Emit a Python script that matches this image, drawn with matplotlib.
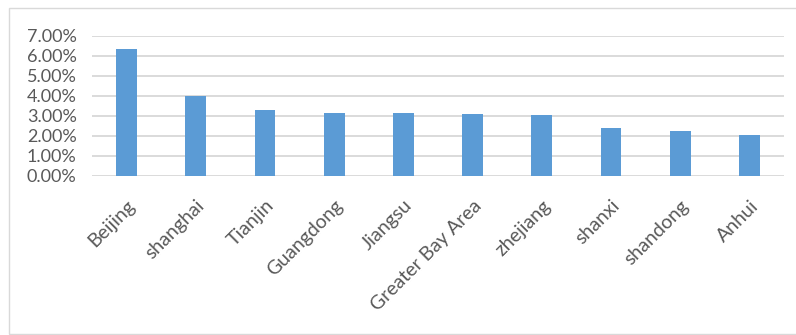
import numpy as np
import matplotlib.pyplot as plt
from matplotlib.patches import Rectangle
from matplotlib.ticker import PercentFormatter

regions = ['Beijing', 'shanghai', 'Tianjin', 'Guangdong', 'Jiangsu',
           'Greater Bay Area', 'zhejiang', 'shanxi', 'shandong', 'Anhui']
share = [6.37, 4.02, 3.30, 3.17, 3.17, 3.10, 3.04, 2.39, 2.25, 2.07]

plt.rcParams['font.family'] = ['Lato', 'DejaVu Sans']

fig = plt.figure(figsize=(7.96, 3.35), dpi=100)
ax = fig.add_axes([92 / 796, 1 - 176 / 335, 692 / 796, 140 / 335])

x = np.arange(len(regions))
ax.bar(x, share, width=0.3, color='#5b9bd5', zorder=3)

ax.set_xlim(-0.5, len(regions) - 0.5)
ax.set_ylim(0, 7)
ax.set_yticks(np.arange(0, 8, 1))
ax.yaxis.set_major_formatter(PercentFormatter(decimals=2))
ax.grid(axis='y', color='#d4d4d4', linewidth=1.2, zorder=0)
for s in ax.spines.values():
    s.set_visible(False)

ax.set_xticks(x)
ax.set_xticklabels(regions, rotation=45, ha='right', rotation_mode='anchor')
ax.tick_params(axis='y', length=0, labelsize=13, labelcolor='#595959', pad=11)
ax.tick_params(axis='x', length=0, labelsize=14, labelcolor='#595959', pad=15)

# chart border
fig.patches.append(Rectangle((9 / 796, 1 / 335), 800 / 796, 326 / 335,
                             transform=fig.transFigure, fill=False,
                             edgecolor='#d9d9d9', linewidth=1))

fig.savefig('out.png', dpi=100)
